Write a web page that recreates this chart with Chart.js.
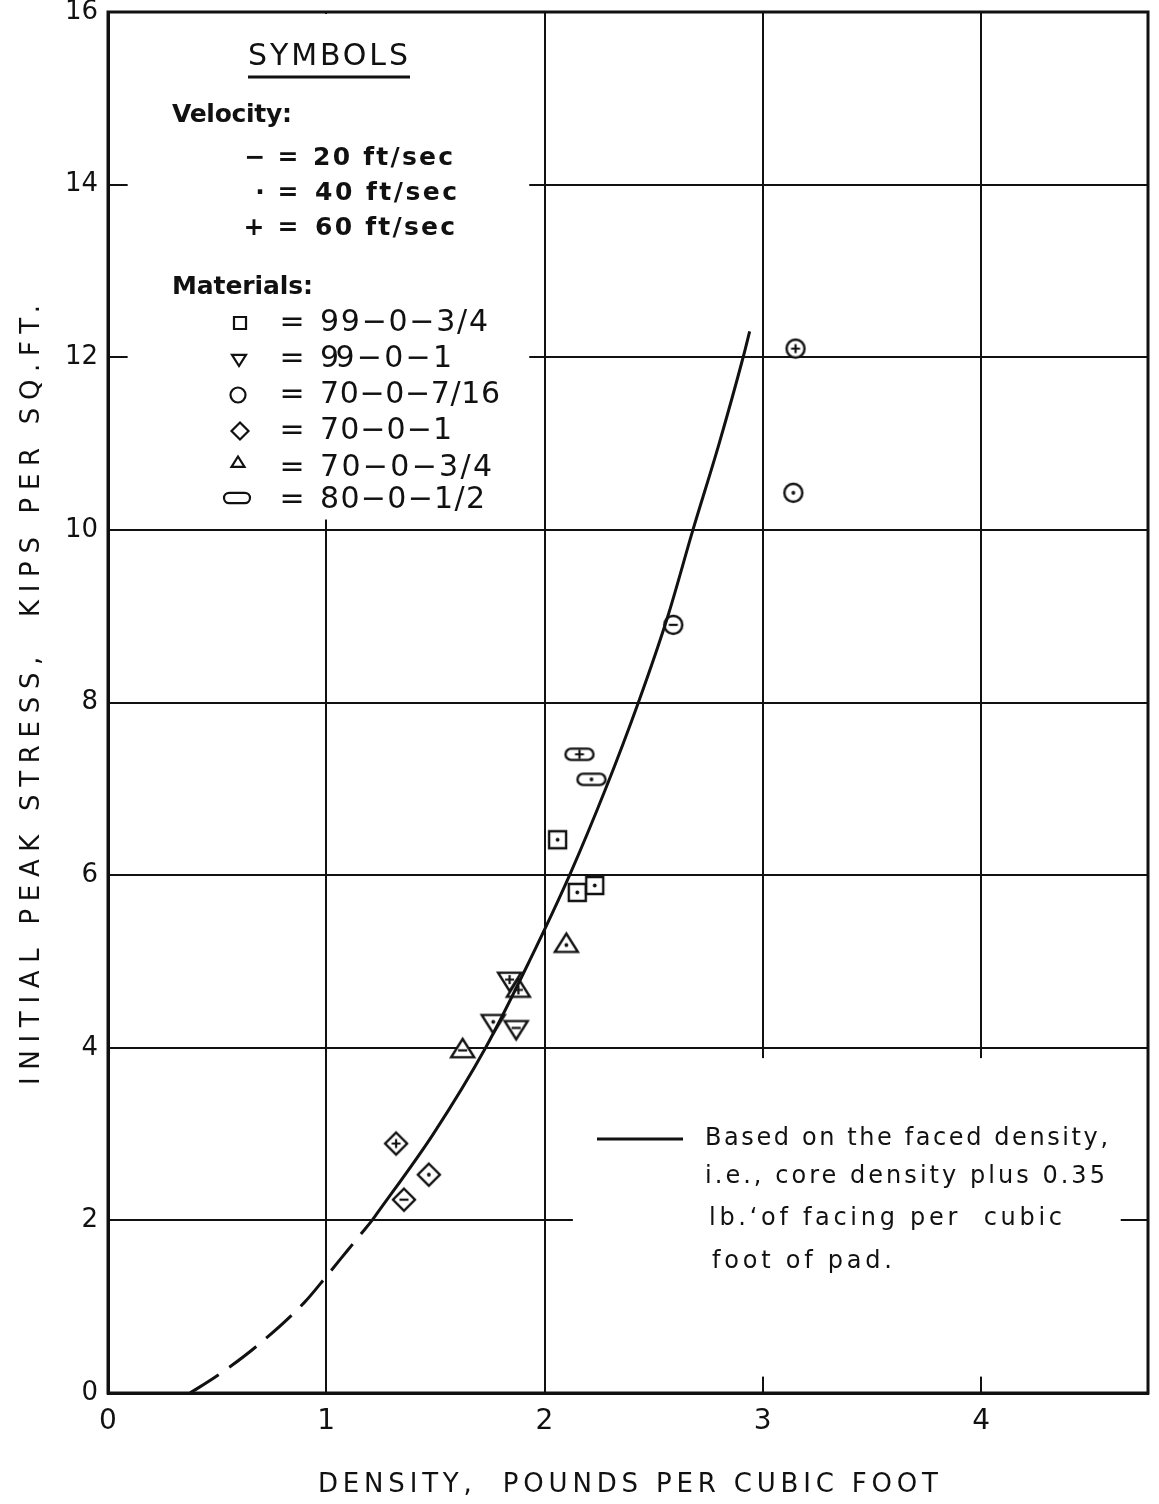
<!DOCTYPE html>
<html>
<head>
<meta charset="utf-8">
<script src="https://cdn.jsdelivr.net/npm/chart.js@4.4.1/dist/chart.umd.min.js"></script>
<style>
  html, body { margin: 0; padding: 0; background: #fff; }
  #wrap { width: 1159px; height: 1504px; }
</style>
</head>
<body>
<div id="wrap"><canvas id="chart" width="1159" height="1504"></canvas></div>
<script>
// faired curve (dashed part is the extrapolation below 2 kips)
const dashX = [0.376, 0.5, 0.68, 0.9, 1.0, 1.1, 1.21];
const dashY = [0, 0.2, 0.54, 1.05, 1.35, 1.66, 2.0];
const curveX = [1.21, 1.49, 1.73, 1.93, 2.115, 2.28, 2.43, 2.565, 2.68, 2.80, 2.91, 2.94];
const curveY = [2.0, 3.0, 4.0, 5.0, 6.0, 7.0, 8.0, 9.0, 10.0, 11.0, 12.0, 12.3];

// test points, velocity in ft/sec decides the inner mark
const squareX = [2.06, 2.15, 2.23];
const squareY = [6.41, 5.80, 5.88];
const squareV = [40, 40, 40];

const triDownX = [1.84, 1.765, 1.87];
const triDownY = [4.79, 4.30, 4.23];
const triDownV = [60, 40, 20];

const circleX = [3.15, 3.14, 2.59];
const circleY = [12.1, 10.43, 8.9];
const circleV = [60, 40, 20];

const diamondX = [1.32, 1.47, 1.356];
const diamondY = [2.89, 2.53, 2.24];
const diamondV = [60, 40, 20];

const triUpX = [1.88, 2.10, 1.625];
const triUpY = [4.67, 5.19, 3.97];
const triUpV = [60, 40, 20];

const ovalX = [2.16, 2.215];
const ovalY = [7.40, 7.11];
const ovalV = [60, 40];

const xTicks = [0, 1, 2, 3, 4];
const yTicks = [0, 2, 4, 6, 8, 10, 12, 14, 16];

const INK = '#111';
const FONT = '"DejaVu Sans", "Liberation Sans", sans-serif';

function drawShape(g, shape, cx, cy, s) {
  g.beginPath();
  if (shape === 'square') {
    g.rect(cx - s / 2, cy - s / 2, s, s);
  } else if (shape === 'circle') {
    g.arc(cx, cy, s / 2, 0, Math.PI * 2);
  } else if (shape === 'diamond') {
    g.moveTo(cx, cy - s / 2); g.lineTo(cx + s / 2, cy);
    g.lineTo(cx, cy + s / 2); g.lineTo(cx - s / 2, cy); g.closePath();
  } else if (shape === 'triDown') {
    g.moveTo(cx - s / 2, cy - s * 0.3); g.lineTo(cx + s / 2, cy - s * 0.3);
    g.lineTo(cx, cy + s * 0.5); g.closePath();
  } else if (shape === 'triUp') {
    g.moveTo(cx - s / 2, cy + s * 0.3); g.lineTo(cx + s / 2, cy + s * 0.3);
    g.lineTo(cx, cy - s * 0.5); g.closePath();
  } else if (shape === 'oval') {
    g.roundRect(cx - s / 2, cy - s * 0.2, s, s * 0.4, s * 0.2);
  }
  g.fillStyle = '#fff';
  g.fill();
  g.strokeStyle = INK;
  g.stroke();
}

function drawMark(g, v, cx, cy) {
  g.strokeStyle = INK;
  g.fillStyle = INK;
  g.lineWidth = 2.2;
  if (v === 20) {
    g.beginPath(); g.moveTo(cx - 4.5, cy); g.lineTo(cx + 4.5, cy); g.stroke();
  } else if (v === 40) {
    g.beginPath(); g.arc(cx, cy, 1.9, 0, Math.PI * 2); g.fill();
  } else {
    g.beginPath();
    g.moveTo(cx - 4.5, cy); g.lineTo(cx + 4.5, cy);
    g.moveTo(cx, cy - 4.5); g.lineTo(cx, cy + 4.5);
    g.stroke();
  }
}

const sizes = { square: 17, circle: 18, diamond: 22, triDown: 23, triUp: 23, oval: 28 };
const iconCache = {};
function icon(shape, v) {
  const key = shape + v;
  if (iconCache[key]) return iconCache[key];
  const s = sizes[shape];
  const c = document.createElement('canvas');
  c.width = s + 8; c.height = s + 8;
  const g = c.getContext('2d');
  g.lineWidth = 2.4;
  drawShape(g, shape, c.width / 2, c.height / 2, s);
  drawMark(g, v, c.width / 2, c.height / 2);
  iconCache[key] = c;
  return c;
}

function pts(xs, ys) {
  return xs.map((x, i) => ({ x: x, y: ys[i] }));
}

function markerSet(label, shape, xs, ys, vs) {
  return {
    label: label,
    type: 'scatter',
    data: pts(xs, ys),
    pointStyle: vs.map(v => icon(shape, v)),
    pointRadius: 10,
    showLine: false
  };
}

// text stretched to the lettering width of the original
function spaced(g, text, x, y, width, align) {
  g.letterSpacing = '0px';
  const w0 = g.measureText(text).width;
  const n = Array.from(text).length;
  const sp = n > 1 ? (width - w0) / (n - 1) : 0;
  g.letterSpacing = sp.toFixed(2) + 'px';
  g.textAlign = 'left';
  const left = align === 'center' ? x - width / 2 : x;
  g.fillText(text, left, y);
  g.letterSpacing = '0px';
}

const paper = {
  id: 'paper',
  beforeDatasetsDraw(chart) {
    const g = chart.ctx;
    const a = chart.chartArea;
    const xs = chart.scales.x, ys = chart.scales.y;
    g.save();
    g.fillStyle = '#fff';
    // blank areas of the grid behind the symbols key and the note
    const lx0 = xs.getPixelForValue(0.09), lx1 = xs.getPixelForValue(1.93);
    const ly1 = ys.getPixelForValue(10.12);
    g.fillRect(lx0, a.top + 2, lx1 - lx0, ly1 - a.top - 2);
    const nx0 = xs.getPixelForValue(2.13), nx1 = xs.getPixelForValue(4.64);
    const ny0 = ys.getPixelForValue(3.88), ny1 = ys.getPixelForValue(0.19);
    g.fillRect(nx0, ny0, nx1 - nx0, ny1 - ny0);
    g.strokeStyle = INK;
    g.lineWidth = 3;
    g.strokeRect(a.left, a.top, a.right - a.left, a.bottom - a.top);
    g.restore();
  },
  afterDraw(chart) {
    const g = chart.ctx;
    g.save();
    g.fillStyle = INK;
    g.strokeStyle = INK;
    g.textBaseline = 'middle';

    // symbols key
    g.font = '30px ' + FONT;
    spaced(g, 'SYMBOLS', 248, 57, 160, 'left');
    g.lineWidth = 3;
    g.beginPath(); g.moveTo(248, 77); g.lineTo(410, 77); g.stroke();

    g.font = 'bold 25px ' + FONT;
    spaced(g, 'Velocity:', 172, 115, 120, 'left');
    const vel = [['−', 255, 158, '20 ft/sec', 313, 140],
                 ['·', 260, 193, '40 ft/sec', 315, 142],
                 ['+', 254, 228, '60 ft/sec', 315, 140]];
    vel.forEach(r => {
      g.textAlign = 'center';
      g.fillText(r[0], r[1], r[2]);
      g.fillText('=', 288, r[2]);
      spaced(g, r[3], r[4], r[2], r[5], 'left');
    });
    spaced(g, 'Materials:', 172, 287, 141, 'left');

    const mats = [['square', 12, 240, 323, '99−0−3/4', 168],
                  ['triDown', 14, 239, 359, '99 − 0 − 1', 132],
                  ['circle', 15, 238, 395, '70−0−7/16', 180],
                  ['diamond', 17, 240, 431, '70−0−1', 132],
                  ['triUp', 13, 238, 463, '70−0−3/4', 172],
                  ['oval', 26, 237, 498, '80−0−1/2', 165]];
    g.font = '30px ' + FONT;
    mats.forEach((r, i) => {
      g.lineWidth = 2.2;
      drawShape(g, r[0], r[2], r[3], r[1]);
      g.fillStyle = INK;
      const ty = i === 4 ? 468 : (i === 5 ? 500 : r[3]);
      g.textAlign = 'center';
      g.fillText('=', 292, ty);
      spaced(g, r[4], 320, ty, r[5], 'left');
    });

    // note on the curve
    g.lineWidth = 3;
    g.beginPath(); g.moveTo(597, 1139); g.lineTo(683, 1139); g.stroke();
    g.font = '24px ' + FONT;
    spaced(g, 'Based on the faced density,', 705, 1139, 403, 'left');
    spaced(g, 'i.e., core density plus 0.35', 705, 1177, 400, 'left');
    spaced(g, 'lb.ʻof facing per  cubic', 709, 1219, 353, 'left');
    spaced(g, 'foot of pad.', 712, 1262, 180, 'left');

    // axis titles
    g.font = '26px ' + FONT;
    spaced(g, 'DENSITY,  POUNDS PER CUBIC FOOT', 628, 1485, 620, 'center');
    g.translate(32, 695);
    g.rotate(-Math.PI / 2);
    spaced(g, 'INITIAL PEAK STRESS,  KIPS PER SQ.FT.', 0, 0, 780, 'center');
    g.restore();
  }
};

new Chart(document.getElementById('chart'), {
  type: 'scatter',
  data: {
    datasets: [
      {
        label: 'extrapolated',
        type: 'line',
        data: pts(dashX, dashY),
        borderColor: INK,
        borderWidth: 3,
        borderDash: [34, 13],
        pointRadius: 0,
        cubicInterpolationMode: 'monotone',
        fill: false
      },
      {
        label: 'Based on the faced density',
        type: 'line',
        data: pts(curveX, curveY),
        borderColor: INK,
        borderWidth: 3,
        pointRadius: 0,
        cubicInterpolationMode: 'monotone',
        fill: false
      },
      markerSet('99-0-3/4', 'square', squareX, squareY, squareV),
      markerSet('99-0-1', 'triDown', triDownX, triDownY, triDownV),
      markerSet('70-0-7/16', 'circle', circleX, circleY, circleV),
      markerSet('70-0-1', 'diamond', diamondX, diamondY, diamondV),
      markerSet('70-0-3/4', 'triUp', triUpX, triUpY, triUpV),
      markerSet('80-0-1/2', 'oval', ovalX, ovalY, ovalV)
    ]
  },
  options: {
    responsive: false,
    animation: false,
    devicePixelRatio: 1,
    layout: { padding: { top: 12, right: 6, left: 0, bottom: 0 } },
    plugins: { legend: { display: false }, tooltip: { enabled: false } },
    scales: {
      x: {
        type: 'linear',
        min: 0,
        max: 4.765,
        afterFit: s => { s.height = 111; s.paddingLeft = 0; s.paddingRight = 0; },
        afterBuildTicks: s => { s.ticks = xTicks.map(v => ({ value: v })); },
        ticks: { padding: 12, color: INK, font: { size: 28, family: FONT } },
        grid: { color: INK, lineWidth: 2, drawTicks: false },
        border: { color: INK, width: 3 }
      },
      y: {
        type: 'linear',
        min: 0,
        max: 16,
        afterFit: s => { s.width = 108; s.paddingTop = 0; s.paddingBottom = 0; },
        afterBuildTicks: s => { s.ticks = yTicks.map(v => ({ value: v })); },
        ticks: { padding: 10, color: INK, font: { size: 26, family: FONT } },
        grid: { color: INK, lineWidth: 2, drawTicks: false },
        border: { color: INK, width: 3 }
      }
    }
  },
  plugins: [paper]
});
</script>
</body>
</html>
